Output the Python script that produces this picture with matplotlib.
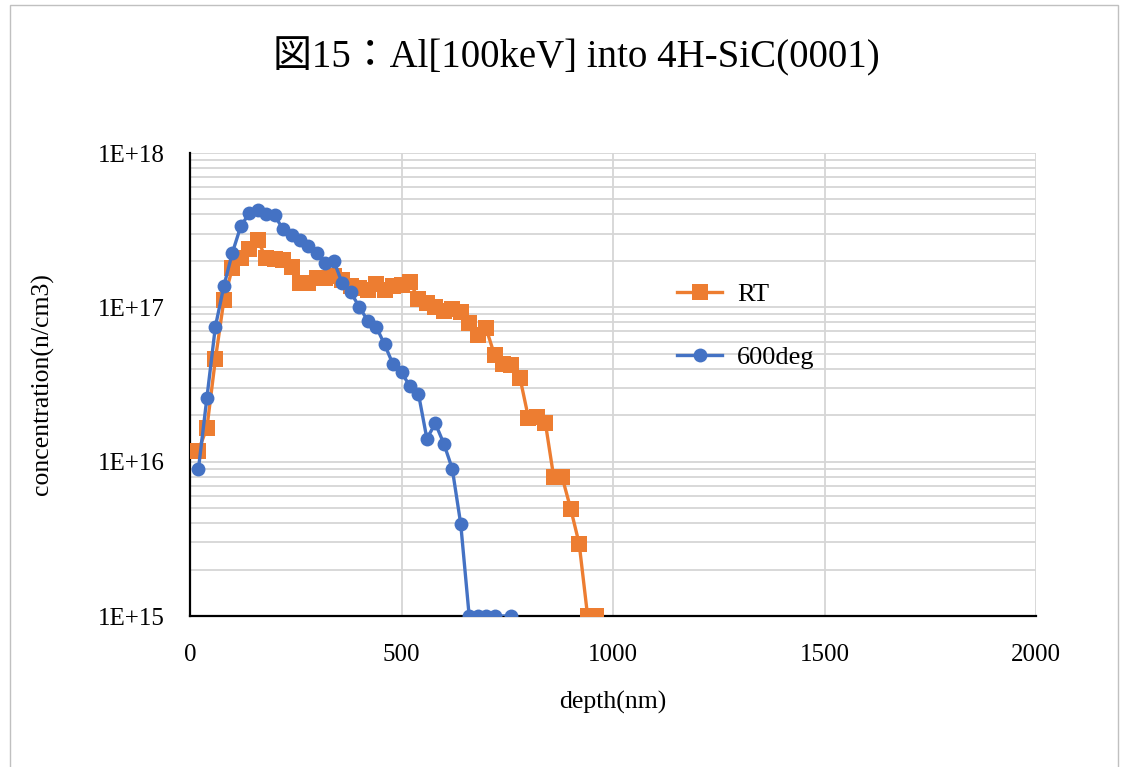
import math
import matplotlib
matplotlib.use('Agg')
import matplotlib.pyplot as plt
from matplotlib.patches import Rectangle
from matplotlib.ticker import FixedLocator, LogLocator, NullFormatter, FuncFormatter

# ── Data ──────────────────────────────────────────────────────────────────────
rt_depth = [20, 40, 60, 80, 100, 120, 140, 160, 180, 200, 220, 240, 260, 280,
            300, 320, 340, 360, 380, 400, 420, 440, 460, 480, 500, 520, 540,
            560, 580, 600, 620, 640, 660, 680, 700, 720, 740, 760, 780, 800,
            820, 840, 860, 880, 900, 920, 940, 960]
rt_conc = [1.18e16, 1.66e16, 4.6e16, 1.11e17, 1.79e17, 2.08e17, 2.38e17, 2.72e17,
           2.08e17, 2.05e17, 2.02e17, 1.82e17, 1.43e17, 1.43e17, 1.54e17, 1.54e17,
           1.6e17, 1.5e17, 1.38e17, 1.33e17, 1.3e17, 1.42e17, 1.3e17, 1.38e17,
           1.4e17, 1.45e17, 1.14e17, 1.06e17, 1.0e17, 0.94e17, 0.98e17, 0.93e17,
           7.9e16, 6.6e16, 7.3e16, 4.9e16, 4.3e16, 4.2e16, 3.5e16, 1.93e16,
           1.95e16, 1.79e16, 7.9e15, 7.9e15, 4.95e15, 2.94e15, 1e15, 1e15]

hot_depth = [20, 40, 60, 80, 100, 120, 140, 160, 180, 200, 220, 240, 260, 280,
             300, 320, 340, 360, 380, 400, 420, 440, 460, 480, 500, 520, 540,
             560, 580, 600, 620, 640, 660, 680, 700, 720, 760]
hot_conc = [9.0e15, 2.6e16, 7.5e16, 1.37e17, 2.25e17, 3.35e17, 4.07e17, 4.27e17,
            4.0e17, 3.95e17, 3.2e17, 2.95e17, 2.72e17, 2.5e17, 2.25e17, 1.93e17,
            2.0e17, 1.43e17, 1.25e17, 1.01e17, 8.2e16, 7.5e16, 5.75e16, 4.27e16,
            3.8e16, 3.07e16, 2.76e16, 1.41e16, 1.77e16, 1.31e16, 9.0e15, 3.95e15,
            1e15, 1e15, 1e15, 1e15, 1e15]

x_ticks = [0, 500, 1000, 1500, 2000]
y_ticks = [1e15, 1e16, 1e17, 1e18]

ORANGE = "#ED7D31"
BLUE = "#4472C4"
GRID = "#d6d6d6"
FONT = ['Liberation Serif', 'Noto Sans CJK JP']

plt.rcParams['font.family'] = FONT

fig = plt.figure(figsize=(11.25, 7.67), dpi=100)
fig.patches.append(Rectangle((10 / 1125, -0.01), 1108 / 1125, 1.0 - 5 / 767 + 0.01,
                             transform=fig.transFigure, fill=False,
                             edgecolor='#c0c0c0', linewidth=1.0))
ax = fig.add_axes([190 / 1125, 151 / 767, 846 / 1125, 463 / 767])

ax.plot(rt_depth, rt_conc, color=ORANGE, linewidth=2.4, marker='s',
        markersize=11.5, markeredgewidth=0, label='RT', zorder=3)
ax.plot(hot_depth, hot_conc, color=BLUE, linewidth=2.4, marker='o',
        markersize=10, markeredgewidth=0, label='600deg', zorder=4)

ax.set_yscale('log')
ax.set_xlim(0, 2000)
ax.set_ylim(1e15, 1e18)
ax.xaxis.set_major_locator(FixedLocator(x_ticks))
ax.yaxis.set_major_locator(FixedLocator(y_ticks))
ax.yaxis.set_minor_locator(LogLocator(base=10, subs=range(2, 10)))
ax.yaxis.set_minor_formatter(NullFormatter())
ax.yaxis.set_major_formatter(FuncFormatter(lambda v, p: f"1E+{int(round(math.log10(v)))}"))

ax.grid(True, which='major', axis='both', color=GRID, linewidth=1.3, zorder=0)
ax.grid(True, which='minor', axis='y', color=GRID, linewidth=1.3, zorder=0)
ax.set_axisbelow(True)
ax.tick_params(which='both', length=0)
ax.tick_params(axis='y', pad=18, labelsize=18)
ax.tick_params(axis='x', pad=20, labelsize=18)
for s in ['top', 'right']:
    ax.spines[s].set_visible(False)
for s in ['left', 'bottom']:
    ax.spines[s].set_color('black')
    ax.spines[s].set_linewidth(1.6)

ax.set_xlabel('depth(nm)', fontsize=18.5, labelpad=18)
ax.set_ylabel('concentration(n/cm3)', fontsize=18.5, labelpad=32)
fig.text(576 / 1125, 1 - 57 / 767, '図15：Al[100keV] into 4H-SiC(0001)',
         ha='center', va='center', fontsize=28)

ax.legend(loc='upper left', bbox_to_anchor=(0.548, 0.772), frameon=False,
          fontsize=19, handlelength=1.7, labelspacing=1.5, handletextpad=0.55)

fig.savefig('out.png', dpi=100)
